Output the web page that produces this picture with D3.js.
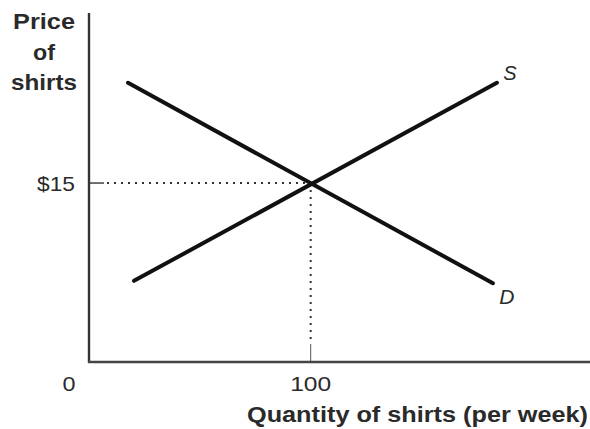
<!DOCTYPE html>
<html>
<head>
<meta charset="utf-8">
<script src="https://cdn.jsdelivr.net/npm/d3@7"></script>
<style>
  html, body { margin: 0; padding: 0; background: #fff; }
  svg { display: block; }
  text { font-family: "Liberation Sans", Arial, sans-serif; fill: #2a2a2a; }
</style>
</head>
<body>
<div id="chart"></div>
<script>
// Curve end points: [quantity, price]
const supply = [[20.3, 6.8], [184, 23.4]];
const demand = [[17.6, 23.4], [182.2, 6.6]];

// Equilibrium and tick labels
const eqQuantity = 100;
const eqPrice = 15;
const priceLabels = ["$15"];
const quantityLabels = ["0", "100"];
const yTitle = ["Price", "of", "shirts"];
const xTitle = "Quantity of shirts (per week)";

const width = 590, height = 429;

// Origin sits at the axis corner, x axis runs to the right edge
const xScale = d3.scaleLinear().domain([0, 226]).range([89, 590]);
const yScale = d3.scaleLinear().domain([0, 29.25]).range([362, 13]);

const svg = d3.select("#chart").append("svg")
  .attr("width", width)
  .attr("height", height);

// Dotted guides to the equilibrium point
svg.append("line")
  .attr("x1", xScale(0) + 18).attr("x2", xScale(eqQuantity))
  .attr("y1", yScale(eqPrice)).attr("y2", yScale(eqPrice))
  .attr("stroke", "#333").attr("stroke-width", 2)
  .attr("stroke-dasharray", "2,5");

svg.append("line")
  .attr("x1", xScale(eqQuantity)).attr("x2", xScale(eqQuantity))
  .attr("y1", yScale(eqPrice)).attr("y2", yScale(0) - 19)
  .attr("stroke", "#333").attr("stroke-width", 2)
  .attr("stroke-dasharray", "2,5");

// Short solid ticks at $15 and 100
svg.append("line")
  .attr("x1", xScale(0)).attr("x2", xScale(0) + 15)
  .attr("y1", yScale(eqPrice)).attr("y2", yScale(eqPrice))
  .attr("stroke", "#333").attr("stroke-width", 1.4);

svg.append("line")
  .attr("x1", xScale(eqQuantity)).attr("x2", xScale(eqQuantity))
  .attr("y1", yScale(0)).attr("y2", yScale(0) - 18)
  .attr("stroke", "#555").attr("stroke-width", 1);

// Axes
svg.append("line")
  .attr("x1", xScale(0)).attr("x2", xScale(0))
  .attr("y1", yScale.range()[1]).attr("y2", yScale(0) + 1)
  .attr("stroke", "#333").attr("stroke-width", 2.4);

svg.append("line")
  .attr("x1", xScale(0) - 1).attr("x2", xScale.range()[1])
  .attr("y1", yScale(0)).attr("y2", yScale(0))
  .attr("stroke", "#444").attr("stroke-width", 2.4);

// Supply and demand curves
const line = d3.line()
  .x(d => xScale(d[0]))
  .y(d => yScale(d[1]));

[supply, demand].forEach(function(curve) {
  svg.append("path")
    .datum(curve)
    .attr("d", line)
    .attr("fill", "none")
    .attr("stroke", "#111")
    .attr("stroke-width", 4)
    .attr("stroke-linecap", "round");
});

// Curve labels
svg.append("text")
  .attr("x", xScale(supply[1][0]) + 13)
  .attr("y", yScale(supply[1][1]) - 3)
  .attr("text-anchor", "middle")
  .style("font-size", "20px")
  .style("font-style", "italic")
  .text("S");

svg.append("text")
  .attr("x", xScale(demand[1][0]) + 14)
  .attr("y", yScale(demand[1][1]) + 21)
  .attr("text-anchor", "middle")
  .style("font-size", "21px")
  .style("font-style", "italic")
  .text("D");

// Price tick label
svg.append("text")
  .attr("x", 56)
  .attr("y", yScale(eqPrice) + 8)
  .attr("text-anchor", "middle")
  .attr("textLength", 38)
  .attr("lengthAdjust", "spacingAndGlyphs")
  .style("font-size", "21px")
  .text(priceLabels[0]);

// Quantity tick labels
svg.append("text")
  .attr("x", 69)
  .attr("y", 391)
  .attr("text-anchor", "middle")
  .attr("textLength", 13)
  .attr("lengthAdjust", "spacingAndGlyphs")
  .style("font-size", "21px")
  .text(quantityLabels[0]);

svg.append("text")
  .attr("x", xScale(eqQuantity))
  .attr("y", 391)
  .attr("text-anchor", "middle")
  .attr("textLength", 41)
  .attr("lengthAdjust", "spacingAndGlyphs")
  .style("font-size", "21px")
  .text(quantityLabels[1]);

// Y axis title, three stacked lines
const yTitleWidths = [62, 22, 66];
yTitle.forEach(function(t, i) {
  svg.append("text")
    .attr("x", 44)
    .attr("y", 29 + i * 30.5)
    .attr("text-anchor", "middle")
    .attr("textLength", yTitleWidths[i])
    .attr("lengthAdjust", "spacingAndGlyphs")
    .style("font-size", "22px")
    .style("font-weight", "bold")
    .text(t);
});

// X axis title
svg.append("text")
  .attr("x", 247)
  .attr("y", 422)
  .attr("textLength", 341)
  .attr("lengthAdjust", "spacingAndGlyphs")
  .style("font-size", "22px")
  .style("font-weight", "bold")
  .text(xTitle);
</script>
</body>
</html>
